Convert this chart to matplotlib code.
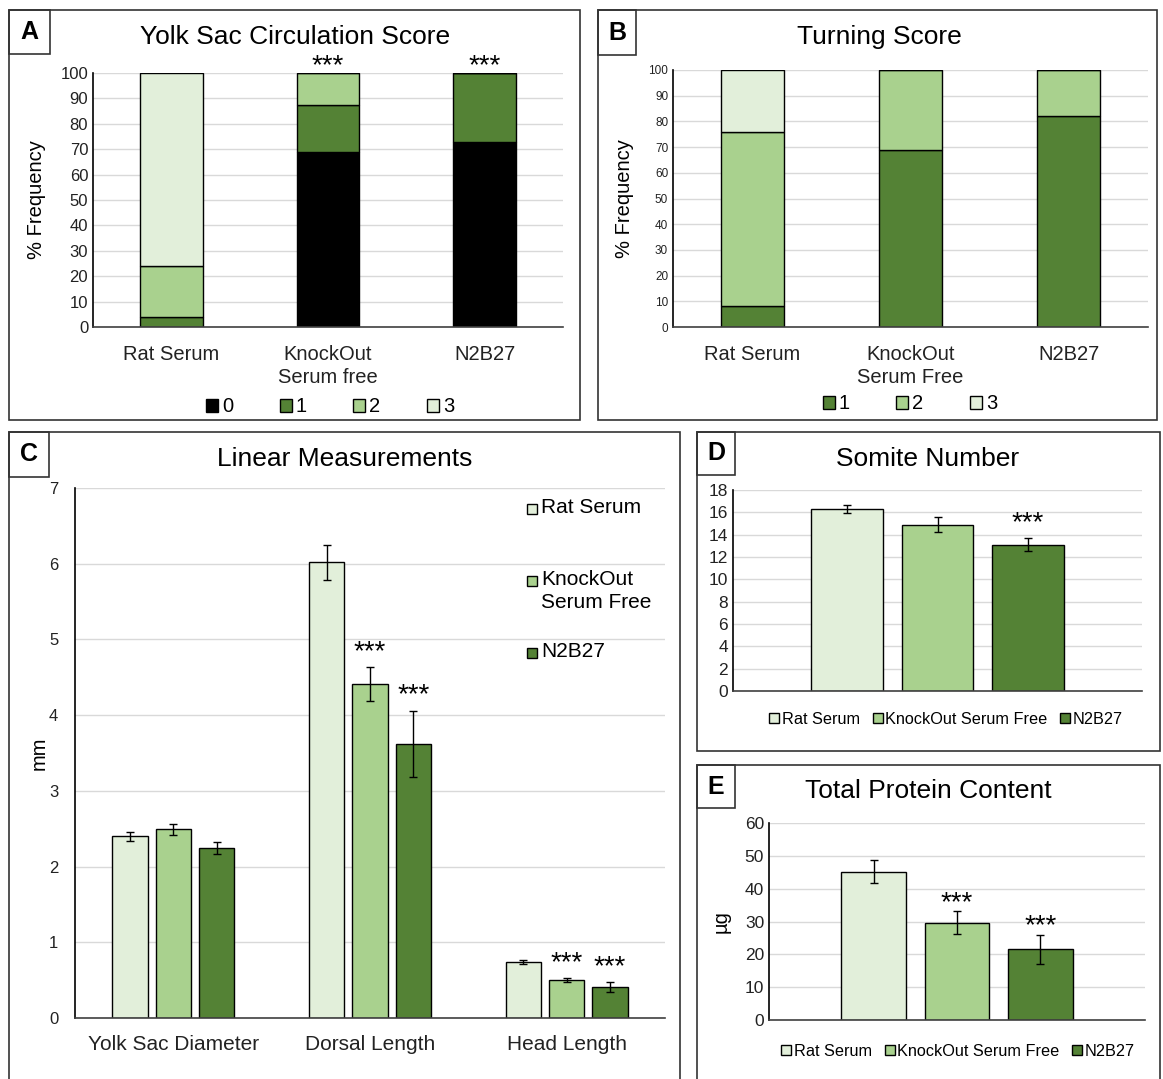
import numpy as np
import matplotlib
matplotlib.use('Agg')
import matplotlib.pyplot as plt
from matplotlib.patches import Rectangle, Patch

W, H = 1163, 1079
plt.rcParams['font.family'] = ['Liberation Sans', 'DejaVu Sans']

CLARO = '#E2EFDA'
MEDIO = '#A9D18E'
OSCURO = '#548235'
NEGRO = '#000000'
GRIS = '#D9D9D9'

# --- Datos panel A (circulacion saco vitelino, % frecuencia) ---
cat_a = ['Rat Serum', 'KnockOut\nSerum free', 'N2B27']
a_score0 = [0, 69, 73]
a_score1 = [4, 18.5, 27]
a_score2 = [20, 12.5, 0]
a_score3 = [76, 0, 0]
sig_a = ['', '***', '***']

# --- Datos panel B (turning score) ---
cat_b = ['Rat Serum', 'KnockOut\nSerum Free', 'N2B27']
b_score1 = [8, 69, 82]
b_score2 = [68, 31, 18]
b_score3 = [24, 0, 0]

# --- Datos panel C (medidas lineales, mm) ---
cat_c = ['Yolk Sac Diameter', 'Dorsal Length', 'Head Length']
c_rat = [2.40, 6.02, 0.74]
c_rat_err = [0.06, 0.23, 0.03]
c_ko = [2.49, 4.41, 0.50]
c_ko_err = [0.07, 0.22, 0.03]
c_n2 = [2.25, 3.62, 0.41]
c_n2_err = [0.08, 0.44, 0.06]
sig_c_ko = ['', '***', '***']
sig_c_n2 = ['', '***', '***']

# --- Datos panel D (somitas) y E (proteina total) ---
grupos = ['Rat Serum', 'KnockOut Serum Free', 'N2B27']
d_vals = [16.3, 14.9, 13.1]
d_err = [0.4, 0.7, 0.6]
sig_d = ['', '', '***']
e_vals = [45.2, 29.6, 21.5]
e_err = [3.5, 3.5, 4.5]
sig_e = ['', '***', '***']

colores = [CLARO, MEDIO, OSCURO]

fig = plt.figure(figsize=(W / 100, H / 100), dpi=100)


def ejes(izq, arr, der, abj):
    return fig.add_axes([izq / W, 1 - abj / H, (der - izq) / W, (abj - arr) / H])


def marco(x0, y0, x1, y1, letra, lx1, ly1):
    fig.add_artist(Rectangle((x0 / W, 1 - y1 / H), (x1 - x0) / W, (y1 - y0) / H,
                             transform=fig.transFigure, fill=False, ec='#333333', lw=1.2))
    fig.add_artist(Rectangle((x0 / W, 1 - ly1 / H), (lx1 - x0) / W, (ly1 - y0) / H,
                             transform=fig.transFigure, fill=False, ec='#333333', lw=1.2))
    fig.text((x0 + lx1) / 2 / W, 1 - (y0 + ly1) / 2 / H, letra, ha='center', va='center',
             fontsize=18, fontweight='bold')


def estilo(ax, ymax, paso, tam):
    ax.set_ylim(0, ymax)
    ax.set_yticks(np.arange(0, ymax + paso / 2, paso))
    ax.yaxis.grid(True, color=GRIS, lw=1)
    ax.set_axisbelow(True)
    for s in ['top', 'right']:
        ax.spines[s].set_visible(False)
    ax.spines['left'].set_color('black')
    ax.spines['bottom'].set_color('#404040')
    ax.spines['left'].set_linewidth(1.2)
    ax.spines['bottom'].set_linewidth(1.2)
    ax.tick_params(length=0, labelsize=tam, colors='#222222')


def estrellas(ax, xs, tops, marcas, dy):
    for x, t, m in zip(xs, tops, marcas):
        if m:
            ax.annotate(m, xy=(x, t), xytext=(0, dy), textcoords='offset pixels',
                        ha='center', va='baseline', fontsize=20)


# ---------------- Panel A ----------------
marco(9, 10, 580, 420, 'A', 50, 54)
ax = ejes(93, 73, 563, 327)
x = np.arange(3)
fondo = np.zeros(3)
for v, c in zip([a_score0, a_score1, a_score2, a_score3], [NEGRO, OSCURO, MEDIO, CLARO]):
    ax.bar(x, v, 0.4, bottom=fondo, color=c, edgecolor='black', lw=1, zorder=2)
    fondo = fondo + np.array(v)
estilo(ax, 100, 10, 12)
ax.set_xlim(-0.5, 2.5)
ax.set_xticks(x)
ax.set_xticklabels(cat_a, fontsize=14.5, linespacing=1.25)
ax.tick_params(axis='x', pad=13)
ax.set_ylabel('% Frequency', fontsize=14.5, labelpad=10)
estrellas(ax, x, fondo, sig_a, 0)
fig.text(295 / W, 1 - 37 / H, 'Yolk Sac Circulation Score', ha='center', va='center', fontsize=19)
ax.legend([Patch(fc=c, ec='black') for c in [NEGRO, OSCURO, MEDIO, CLARO]], ['0', '1', '2', '3'],
          loc='center', bbox_to_anchor=(330 / W, 1 - 407 / H), bbox_transform=fig.transFigure,
          ncol=4, frameon=False, fontsize=14.5, handlelength=0.6, handleheight=0.6,
          handletextpad=0.2, columnspacing=2.3)

# ---------------- Panel B ----------------
marco(598, 10, 1157, 420, 'B', 636, 55)
ax = ejes(673, 70, 1148, 327)
fondo = np.zeros(3)
for v, c in zip([b_score1, b_score2, b_score3], [OSCURO, MEDIO, CLARO]):
    ax.bar(x, v, 0.4, bottom=fondo, color=c, edgecolor='black', lw=1, zorder=2)
    fondo = fondo + np.array(v)
estilo(ax, 100, 10, 8.5)
ax.set_xlim(-0.5, 2.5)
ax.set_xticks(x)
ax.set_xticklabels(cat_b, fontsize=14.5, linespacing=1.25)
ax.tick_params(axis='x', pad=13)
ax.set_ylabel('% Frequency', fontsize=14.5, labelpad=10)
fig.text(879 / W, 1 - 37 / H, 'Turning Score', ha='center', va='center', fontsize=19)
ax.legend([Patch(fc=c, ec='black') for c in [OSCURO, MEDIO, CLARO]], ['1', '2', '3'],
          loc='center', bbox_to_anchor=(910 / W, 1 - 404 / H), bbox_transform=fig.transFigure,
          ncol=3, frameon=False, fontsize=14.5, handlelength=0.6, handleheight=0.6,
          handletextpad=0.2, columnspacing=2.3)

# ---------------- Panel C ----------------
marco(9, 432, 680, 1090, 'C', 49, 477)
ax = ejes(75, 488, 665, 1018)
desp = 0.22
for k, (v, e, c) in enumerate(zip([c_rat, c_ko, c_n2], [c_rat_err, c_ko_err, c_n2_err], colores)):
    xs = x + (k - 1) * desp
    ax.bar(xs, v, 0.18, color=c, edgecolor='black', lw=1, zorder=2)
    ax.errorbar(xs, v, yerr=e, fmt='none', ecolor='black', elinewidth=1, capsize=3, capthick=1, zorder=3)
estrellas(ax, x, np.array(c_ko) + np.array(c_ko_err), sig_c_ko, 8)
estrellas(ax, x + desp, np.array(c_n2) + np.array(c_n2_err), sig_c_n2, 8)
estilo(ax, 7, 1, 12)
ax.set_xlim(-0.5, 2.5)
ax.set_xticks(x)
ax.set_xticklabels(cat_c, fontsize=15)
ax.tick_params(axis='x', pad=12)
ax.tick_params(axis='y', pad=12)
ax.set_ylabel('mm', fontsize=14.5, labelpad=0)
fig.text(345 / W, 1 - 459 / H, 'Linear Measurements', ha='center', va='center', fontsize=19)
etiquetas_c = ['Rat Serum', 'KnockOut\nSerum Free', 'N2B27']
for k, (lab, c) in enumerate(zip(etiquetas_c, colores)):
    yc = 509 + 72 * k
    fig.add_artist(Rectangle((527 / W, 1 - (yc + 5) / H), 10 / W, 10 / H, transform=fig.transFigure,
                             fc=c, ec='black', lw=1))
    fig.text(541 / W, 1 - (yc - 11) / H, lab, ha='left', va='top', fontsize=15, linespacing=1.3)

# ---------------- Panel D ----------------
marco(697, 432, 1160, 751, 'D', 735, 475)
ax = ejes(733, 490, 1142, 691)
xg = np.arange(3) - 1
ax.bar(xg, d_vals, 0.79, color=colores, edgecolor='black', lw=1, zorder=2)
ax.errorbar(xg, d_vals, yerr=d_err, fmt='none', ecolor='black', elinewidth=1, capsize=3, capthick=1, zorder=3)
estrellas(ax, xg, np.array(d_vals) + np.array(d_err), sig_d, 8)
estilo(ax, 18, 2, 12.5)
ax.set_xlim(-2.26, 2.26)
ax.set_xticks([])
fig.text(928 / W, 1 - 459 / H, 'Somite Number', ha='center', va='center', fontsize=19)
ax.legend([Patch(fc=c, ec='black') for c in colores], grupos,
          loc='center', bbox_to_anchor=(946 / W, 1 - 719 / H), bbox_transform=fig.transFigure,
          ncol=3, frameon=False, fontsize=11.7, handlelength=0.6, handleheight=0.6,
          handletextpad=0.15, columnspacing=0.8)

# ---------------- Panel E ----------------
marco(697, 765, 1160, 1090, 'E', 735, 808)
ax = ejes(769, 823, 1145, 1020)
ax.bar(xg, e_vals, 0.78, color=colores, edgecolor='black', lw=1, zorder=2)
ax.errorbar(xg, e_vals, yerr=e_err, fmt='none', ecolor='black', elinewidth=1, capsize=3, capthick=1, zorder=3)
estrellas(ax, xg, np.array(e_vals) + np.array(e_err), sig_e, 1)
estilo(ax, 60, 10, 12.5)
ax.set_xlim(-2.26, 2.26)
ax.set_xticks([])
ax.set_ylabel('µg', fontsize=14.5, labelpad=10)
fig.text(928 / W, 1 - 791 / H, 'Total Protein Content', ha='center', va='center', fontsize=19)
ax.legend([Patch(fc=c, ec='black') for c in colores], grupos,
          loc='center', bbox_to_anchor=(958 / W, 1 - 1051 / H), bbox_transform=fig.transFigure,
          ncol=3, frameon=False, fontsize=11.7, handlelength=0.6, handleheight=0.6,
          handletextpad=0.15, columnspacing=0.8)

fig.savefig('out.png', dpi=100)
